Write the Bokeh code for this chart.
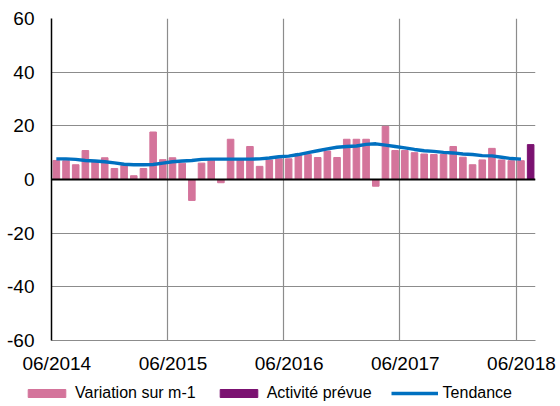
from bokeh.plotting import figure
from bokeh.layouts import column, row
from bokeh.models import ColumnDataSource, FixedTicker, Legend, LegendItem, Span, Range1d
from bokeh.embed import file_html
from bokeh.resources import INLINE

# ---- data (monthly, 06/2014 .. 06/2018) ----
months = [f"{m:02d}/{y}" for y in range(2014, 2019) for m in range(1, 13)]
months = months[5:5 + 49]  # 06/2014 .. 06/2018
variation = [7.1, 7.0, 5.5, 10.8, 6.5, 8.1, 4.1, 5.2, 1.4, 4.1,
             17.7, 7.4, 8.1, 6.1, -7.8, 6.1, 7.2, -1.2, 15.0, 7.4,
             12.3, 4.9, 7.3, 7.7, 7.7, 9.6, 9.3, 8.2, 10.6, 8.2,
             15.0, 15.0, 15.0, -2.5, 19.8, 10.8, 10.8, 10.0, 9.5, 9.3,
             9.3, 12.3, 8.3, 5.5, 7.3, 11.6, 7.3, 7.0, 7.0]
tendance = [7.7, 7.7, 7.5, 7.1, 6.9, 6.6, 6.2, 5.7, 5.5, 5.5,
            5.6, 6.1, 6.6, 6.9, 7.1, 7.5, 7.6, 7.6, 7.6, 7.6,
            7.6, 7.7, 8.0, 8.5, 8.7, 9.3, 10.0, 10.7, 11.4, 12.0,
            12.3, 12.5, 13.1, 13.3, 12.8, 12.3, 11.8, 11.2, 10.7, 10.5,
            10.1, 9.9, 9.5, 9.3, 8.9, 8.8, 8.3, 7.8, 7.6]
prevue_month = ["07/2018"]
prevue = [13.0]
tick_labels = ["06/2014", "06/2015", "06/2016", "06/2017", "06/2018"]
y_ticks = [-60, -40, -20, 0, 20, 40, 60]
legend_labels = ["Variation sur m-1", "Activité prévue", "Tendance"]

PINK = "#D4749B"
PURPLE = "#7B1271"
BLUE = "#0070C0"
GRID = "#8C8C8C"

n = len(months)
xpos = [i + 0.5 for i in range(n)]
src = ColumnDataSource(dict(x=xpos, v=variation, t=tendance, m=months))
src2 = ColumnDataSource(dict(x=[n + 0.5], v=prevue, m=prevue_month))

p = figure(width=557, height=377, output_backend="svg", toolbar_location=None,
           x_range=Range1d(0, 50), y_range=Range1d(-60, 60),
           min_border_left=51, min_border_top=18, min_border_right=22,
           min_border_bottom=37)
p.outline_line_color = None
p.background_fill_color = "white"

p.vbar(x="x", top="v", bottom=0, width=0.68, color=PINK, source=src)
p.vbar(x="x", top="v", bottom=0, width=0.68, color=PURPLE, source=src2)
p.line(x="x", y="t", line_color=BLUE, line_width=3.4, source=src)

p.add_layout(Span(location=0, dimension="width", line_color="black", line_width=2))

# grids
p.xgrid.ticker = FixedTicker(ticks=[0, 12, 24, 36, 48])
p.xgrid.grid_line_color = GRID
p.xgrid.grid_line_width = 1.2
p.ygrid.ticker = FixedTicker(ticks=y_ticks)
p.ygrid.grid_line_color = GRID
p.ygrid.grid_line_width = 1.2

# axes
ax = p.xaxis[0]
ax.ticker = FixedTicker(ticks=[0.55, 12.55, 24.55, 36.55, 48.55])
ax.major_label_overrides = {0.55: tick_labels[0], 12.55: tick_labels[1], 24.55: tick_labels[2],
                            36.55: tick_labels[3], 48.55: tick_labels[4]}
ax.major_tick_out = 0
ax.major_tick_in = 0
ax.minor_tick_out = 0
ax.minor_tick_in = 0
ax.axis_line_color = GRID
ax.axis_line_width = 1.2
ax.major_label_text_font = "Liberation Sans"
ax.major_label_text_font_size = "19px"
ax.major_label_text_color = "black"
ax.major_label_standoff = 12

ay = p.yaxis[0]
ay.ticker = FixedTicker(ticks=y_ticks)
ay.major_label_overrides = {t: str(t) for t in y_ticks}
ay.major_tick_out = 0
ay.major_tick_in = 0
ay.minor_tick_out = 0
ay.minor_tick_in = 0
ay.axis_line_color = "black"
ay.axis_line_width = 1.5
ay.major_label_text_font = "Liberation Sans"
ay.major_label_text_font_size = "19px"
ay.major_label_text_color = "black"
ay.major_label_standoff = 17

# ---- legend strip ----
lg = figure(width=557, height=26, output_backend="svg", toolbar_location=None,
            x_range=Range1d(0, 1), y_range=Range1d(0, 1),
            x_axis_location=None, y_axis_location=None, min_border=0,
            min_border_left=0, min_border_right=0, min_border_top=0, min_border_bottom=0)
lg.outline_line_color = None
lg.grid.visible = False
d1 = lg.vbar(x=[5], top=[1], width=0.5, color=PINK)
d2 = lg.vbar(x=[5], top=[1], width=0.5, color=PURPLE)
d3 = lg.line(x=[5, 6], y=[0.5, 0.5], line_color=BLUE, line_width=3.4)
legend = Legend(items=[LegendItem(label=legend_labels[0], renderers=[d1]),
                       LegendItem(label=legend_labels[1], renderers=[d2]),
                       LegendItem(label=legend_labels[2], renderers=[d3])],
                orientation="horizontal", location=(23, 0),
                glyph_width=47, glyph_height=10, label_standoff=5, spacing=19,
                padding=0, margin=0, border_line_color=None, background_fill_alpha=0,
                label_text_font="Liberation Sans", label_text_font_size="16px",
                label_text_color="black", label_height=20)
lg.add_layout(legend, "center")

layout = column(p, row(lg), spacing=0)
open("out.html", "w").write(file_html(layout, INLINE))
